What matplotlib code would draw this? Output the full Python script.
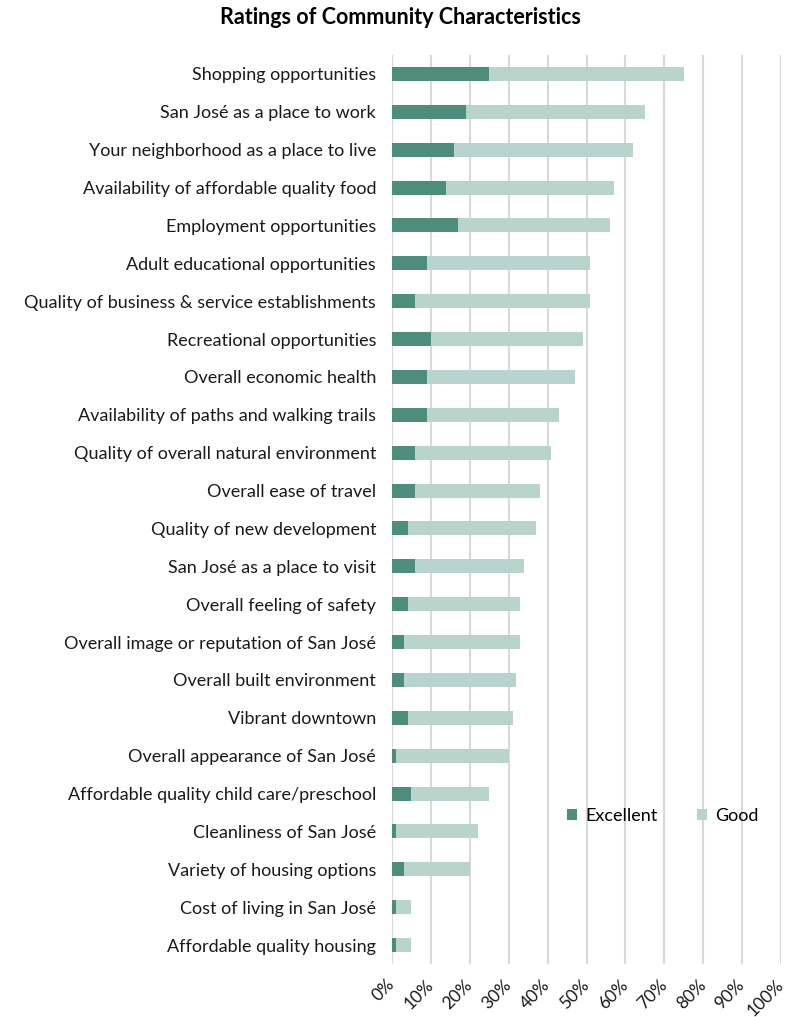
import numpy as np
import matplotlib.pyplot as plt

categories = [
    "Shopping opportunities",
    "San José as a place to work",
    "Your neighborhood as a place to live",
    "Availability of affordable quality food",
    "Employment opportunities",
    "Adult educational opportunities",
    "Quality of business & service establishments",
    "Recreational opportunities",
    "Overall economic health",
    "Availability of paths and walking trails",
    "Quality of overall natural environment",
    "Overall ease of travel",
    "Quality of new development",
    "San José as a place to visit",
    "Overall feeling of safety",
    "Overall image or reputation of San José",
    "Overall built environment",
    "Vibrant downtown",
    "Overall appearance of San José",
    "Affordable quality child care/preschool",
    "Cleanliness of San José",
    "Variety of housing options",
    "Cost of living in San José",
    "Affordable quality housing",
]
excellent = [25, 19, 16, 14, 17, 9, 6, 10, 9, 9, 6, 6, 4, 6, 4, 3, 3, 4, 1, 5, 1, 3, 1, 1]
good = [50, 46, 46, 43, 39, 42, 45, 39, 38, 34, 35, 32, 33, 28, 29, 30, 29, 27, 29, 20, 21, 17, 4, 4]
ticks = [0, 10, 20, 30, 40, 50, 60, 70, 80, 90, 100]

dark = '#4e8c7b'
light = '#b9d4cc'
font = 'Lato'

fig = plt.figure(figsize=(7.88, 10.17), dpi=100)
ax = fig.add_axes([392/788, 1 - 964/1017, 389/788, 909/1017])

y = np.arange(len(categories))
ax.barh(y, excellent, height=0.37, color=dark, label='Excellent', zorder=3)
ax.barh(y, good, left=excellent, height=0.37, color=light, label='Good', zorder=3)

ax.set_xlim(0, 100)
ax.set_ylim(len(categories) - 0.5, -0.5)
ax.set_yticks(y)
ax.set_yticklabels(categories, fontname=font, fontsize=13, color='#1a1a1a')
ax.set_xticks(ticks)
ax.set_xticklabels([f'{t}%' for t in ticks], rotation=45, rotation_mode='anchor',
                   ha='right', va='center', fontname=font, fontsize=12.5, color='#1a1a1a')
ax.tick_params(axis='y', length=0, pad=11.5)
ax.tick_params(axis='x', length=0, pad=13)
ax.grid(axis='x', color='#d9d9d9', linewidth=1.5, zorder=0)
for s in ax.spines.values():
    s.set_visible(False)

fig.text(400/788, 1 - 18/1017, 'Ratings of Community Characteristics', ha='center', va='center',
         fontname=font, fontweight='bold', fontsize=15.5)

leg = ax.legend(loc='center', bbox_to_anchor=(663/788, 1 - 816/1017), bbox_transform=fig.transFigure,
                ncol=2, frameon=False, handlelength=0.55, handleheight=0.55, columnspacing=2.2,
                handletextpad=0.45, prop={'family': font, 'size': 13})

fig.savefig('out.png', dpi=100)
